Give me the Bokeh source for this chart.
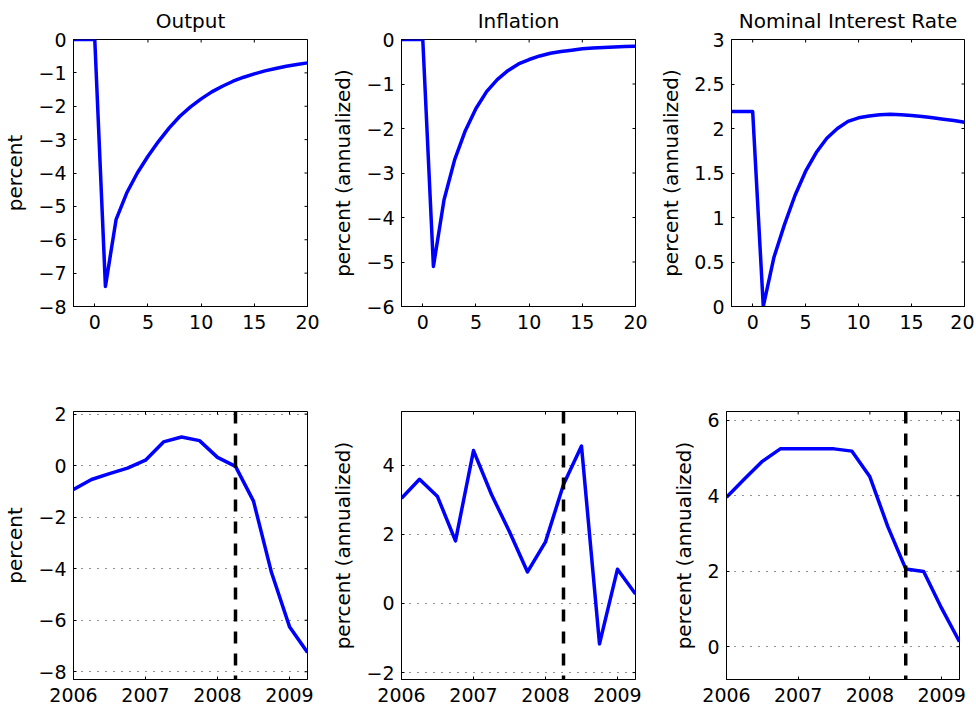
from bokeh.plotting import figure
from bokeh.layouts import column, row
from bokeh.models import Span, FixedTicker, Range1d
from bokeh.embed import file_html
from bokeh.resources import INLINE

# ---------------- data ----------------
horizon = [-2, -1, 0, 1, 2, 3, 4, 5, 6, 7, 8, 9, 10, 11, 12, 13, 14, 15, 16, 17, 18, 19, 20]
irf_output = [0, 0, 0, -7.4, -5.4, -4.6, -4.0, -3.5, -3.05, -2.65, -2.3, -2.02, -1.78,
              -1.57, -1.4, -1.25, -1.13, -1.03, -0.94, -0.87, -0.8, -0.75, -0.7]
irf_inflation = [0, 0, 0, -5.1, -3.6, -2.7, -2.05, -1.55, -1.17, -0.9, -0.7, -0.55, -0.45,
                 -0.37, -0.31, -0.27, -0.24, -0.21, -0.19, -0.18, -0.17, -0.16, -0.15]
irf_rate = [2.19, 2.19, 2.19, 0.0, 0.55, 0.92, 1.25, 1.52, 1.73, 1.89, 2.0, 2.08, 2.12,
            2.14, 2.155, 2.16, 2.155, 2.145, 2.135, 2.12, 2.105, 2.09, 2.07]

quarters = [2006.0, 2006.25, 2006.5, 2006.75, 2007.0, 2007.25, 2007.5, 2007.75,
            2008.0, 2008.25, 2008.5, 2008.75, 2009.0, 2009.25]
hist_output = [-0.93, -0.54, -0.31, -0.1, 0.21, 0.92, 1.11, 0.97, 0.32, -0.03, -1.38, -4.15, -6.25, -7.25]
hist_inflation = [3.04, 3.59, 3.09, 1.81, 4.42, 3.15, 2.07, 0.91, 1.78, 3.44, 4.55, -1.17, 0.99, 0.27]
hist_rate = [3.96, 4.44, 4.91, 5.24, 5.24, 5.24, 5.24, 5.18, 4.5, 3.18, 2.06, 1.99, 1.02, 0.13]

titles = ["Output", "Inflation", "Nominal Interest Rate"]
ylabels = ["percent", "percent (annualized)", "percent (annualized)"]

top_xticks = [0, 5, 10, 15, 20]
top_xrange = (-2, 20)
top_yticks = [[-8, -7, -6, -5, -4, -3, -2, -1, 0],
              [-6, -5, -4, -3, -2, -1, 0],
              [0, 0.5, 1, 1.5, 2, 2.5, 3]]
top_yranges = [(-8, 0), (-6, 0), (0, 3)]

bottom_xticks = [2006, 2007, 2008, 2009]
bottom_xrange = (2006, 2009.25)
bottom_yticks = [[-8, -6, -4, -2, 0, 2], [-2, 0, 2, 4], [0, 2, 4, 6]]
bottom_yranges = [(-8.3, 2.1), (-2.2, 5.55), (-0.87, 6.23)]
event_dates = [2008.25, 2008.25, 2008.5]

# ---------------- style ----------------
FONT = "DejaVu Sans"
TICK_SIZE = "19px"
LABEL_SIZE = "20px"
BLUE = "#0000ff"
TICK_LEN = 3

frame_widths = [234, 234, 233]
left_borders = [66, 70, 70]
right_borders = [21, 21, 10]


def fmt(v):
    return ("%g" % v).replace("-", "\u2212")


def style_axis(ax, ticks, standoff):
    ax.ticker = FixedTicker(ticks=ticks)
    ax.major_label_overrides = {t: fmt(t) for t in ticks}
    ax.major_label_text_font = FONT
    ax.major_label_text_font_size = TICK_SIZE
    ax.major_label_text_color = "black"
    ax.major_tick_in = TICK_LEN
    ax.major_tick_out = 0
    ax.major_tick_line_color = "black"
    ax.minor_tick_line_color = None
    ax.axis_line_color = "black"
    ax.major_label_standoff = standoff


def add_mirror_ticks(p, xticks, yticks, xr, yr, fw, fh):
    # inward tick marks on the top and right frame edges (matching the axis ticks)
    dy = TICK_LEN * (yr[1] - yr[0]) / fh
    dx = TICK_LEN * (xr[1] - xr[0]) / fw
    p.segment(x0=xticks, y0=[yr[1]] * len(xticks), x1=xticks, y1=[yr[1] - dy] * len(xticks),
              line_color="black", line_width=1)
    p.segment(x0=[xr[1]] * len(yticks), y0=yticks, x1=[xr[1] - dx] * len(yticks), y1=yticks,
              line_color="black", line_width=1)


def make_panel(i, x, y, xr, yr, xticks, yticks, top, title=None, ylabel=None,
               event=None, grid=False):
    fh = 267 if top else 268
    p = figure(output_backend="svg", toolbar_location=None,
               frame_width=frame_widths[i], frame_height=fh,
               x_range=Range1d(*xr), y_range=Range1d(*yr),
               min_border_left=left_borders[i], min_border_right=right_borders[i],
               min_border_top=32 if top else 65, min_border_bottom=40 if top else 26,
               background_fill_color="white", border_fill_color="white")
    p.outline_line_color = "black"
    p.outline_line_width = 1
    p.outline_line_alpha = 1
    style_axis(p.xaxis[0], xticks, 8)
    style_axis(p.yaxis[0], yticks, 7)
    p.yaxis[0].axis_label = ylabel
    p.yaxis[0].axis_label_text_font = FONT
    p.yaxis[0].axis_label_text_font_size = LABEL_SIZE
    p.yaxis[0].axis_label_text_font_style = "normal"
    p.yaxis[0].axis_label_text_color = "black"
    p.yaxis[0].axis_label_standoff = 8
    p.xgrid.grid_line_color = None
    if grid:
        p.ygrid.ticker = FixedTicker(ticks=yticks)
        p.ygrid.grid_line_color = "black"
        p.ygrid.grid_line_dash = "1 7"
        p.ygrid.grid_line_width = 1
        p.ygrid.grid_line_alpha = 0.85
    else:
        p.ygrid.grid_line_color = None
    if title:
        p.title.text = title
        p.title.align = "center"
        p.title.text_font = FONT
        p.title.text_font_size = LABEL_SIZE
        p.title.text_font_style = "normal"
        p.title.text_color = "black"
        p.title.standoff = 13
    add_mirror_ticks(p, xticks, yticks, xr, yr, frame_widths[i], fh)
    if event is not None:
        p.add_layout(Span(location=event, dimension="height", line_color="black",
                          line_width=3.5, line_dash="12 10"))
    p.line(x, y, line_color=BLUE, line_width=3.5, line_join="round")
    return p


top_series = [irf_output, irf_inflation, irf_rate]
bottom_series = [hist_output, hist_inflation, hist_rate]

top_row = [make_panel(i, horizon, top_series[i], top_xrange, top_yranges[i], top_xticks,
                      top_yticks[i], True, title=titles[i], ylabel=ylabels[i])
           for i in range(3)]
bottom_row = [make_panel(i, quarters, bottom_series[i], bottom_xrange, bottom_yranges[i],
                         bottom_xticks, bottom_yticks[i], False, ylabel=ylabels[i],
                         event=event_dates[i], grid=True)
              for i in range(3)]

layout = column(row(*top_row), row(*bottom_row))

with open("out.html", "w") as f:
    f.write(file_html(layout, INLINE))
